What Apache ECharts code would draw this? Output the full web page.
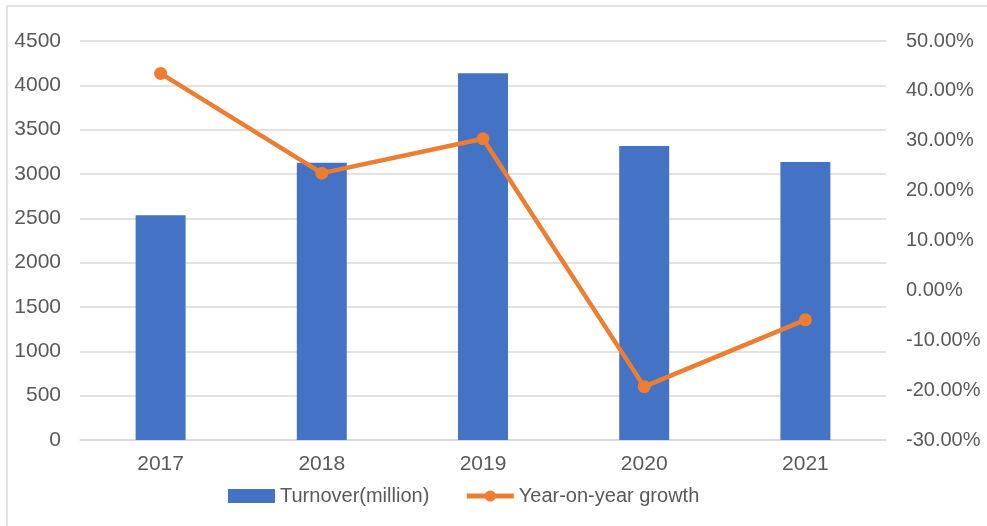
<!DOCTYPE html>
<html>
<head>
<meta charset="utf-8">
<script src="https://cdn.jsdelivr.net/npm/echarts@6/dist/echarts.min.js"></script>
<style>
    html, body { margin: 0; padding: 0; background: #fff; }
    #chart-turnover { width: 987px; height: 526px; }
</style>
</head>
<body>
<div id="chart-turnover"></div>
<script>
let years = ['2017', '2018', '2019', '2020', '2021'];
let turnover = [2534, 3127, 4136, 3316, 3135];
let growth = [43.5, 23.5, 30.4, -19.3, -5.9];

let chartDom = document.getElementById('chart-turnover');
let myChart = echarts.init(chartDom);
let option = {
    animation: false,
    textStyle: { fontFamily: 'Liberation Sans' },
    graphic: [
        {
            type: 'rect',
            shape: { x: 7, y: 6, width: 990, height: 540 },
            style: { fill: 'none', stroke: '#D9D9D9', lineWidth: 1.5 },
            silent: true
        }
    ],
    grid: { left: 80, right: 101, top: 41, bottom: 86 },
    legend: {
        left: 223,
        top: 481,
        itemWidth: 47,
        itemHeight: 14,
        itemGap: 35,
        textStyle: { fontSize: 20, color: '#595959' },
        data: [
            { name: 'Turnover(million)', icon: 'rect' },
            {
                name: 'Year-on-year growth',
                lineStyle: { width: 5, color: '#ED7D31' }
            }
        ]
    },
    xAxis: {
        type: 'category',
        data: years,
        axisTick: { show: false },
        axisLine: { lineStyle: { color: '#D9D9D9', width: 1.5 } },
        axisLabel: { fontSize: 21, color: '#595959', margin: 14 }
    },
    yAxis: [
        {
            type: 'value',
            min: 0,
            max: 4500,
            interval: 500,
            axisLine: { show: false },
            axisTick: { show: false },
            axisLabel: {
                fontSize: 21,
                color: '#595959',
                margin: 19,
                formatter: function (v) {
                    return String(v);
                }
            },
            splitLine: { lineStyle: { color: '#D9D9D9', width: 1.5 } }
        },
        {
            type: 'value',
            min: -30,
            max: 50,
            interval: 10,
            axisLine: { show: false },
            axisTick: { show: false },
            splitLine: { show: false },
            axisLabel: {
                fontSize: 20,
                color: '#595959',
                margin: 20,
                formatter: function (v) {
                    return v.toFixed(2) + '%';
                }
            }
        }
    ],
    series: [
        {
            name: 'Turnover(million)',
            type: 'bar',
            data: turnover,
            barWidth: '31%',
            itemStyle: { color: '#4472C4' }
        },
        {
            name: 'Year-on-year growth',
            type: 'line',
            yAxisIndex: 1,
            data: growth,
            symbol: 'circle',
            symbolSize: 13,
            lineStyle: { color: '#ED7D31', width: 4.5 },
            itemStyle: { color: '#ED7D31' }
        }
    ]
};
option && myChart.setOption(option);
</script>
</body>
</html>
